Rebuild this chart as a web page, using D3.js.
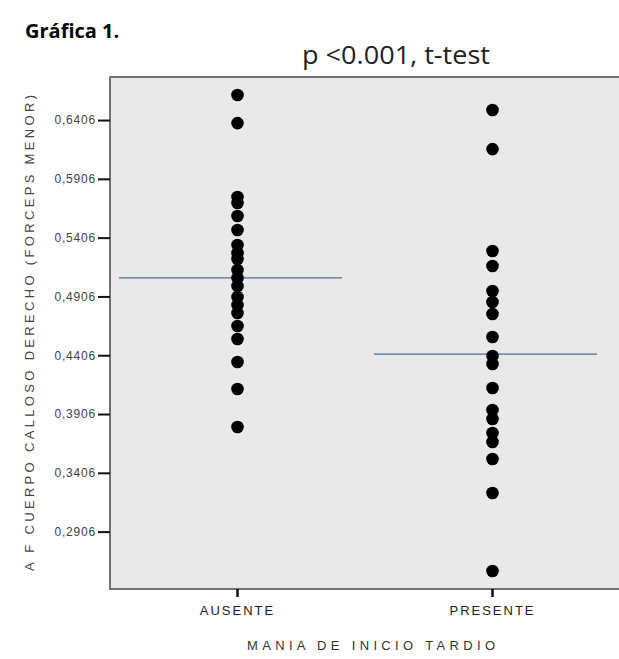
<!DOCTYPE html>
<html lang="es">
<head>
<meta charset="UTF-8">
<title>Gráfica 1</title>
<style>
  body { margin: 0; background: #fff; overflow: hidden; }
  svg { display: block; }
</style>
</head>
<body>
<div id="chart"></div>
<script src="https://d3js.org/d3.v7.min.js"></script>
<script>
// grupos y valores
var categories = ["AUSENTE", "PRESENTE"];
var ausente = [0.6619, 0.6380, 0.5751, 0.5700, 0.5590, 0.5471, 0.5343, 0.5275, 0.5224, 0.5131,
               0.5063, 0.4995, 0.4901, 0.4833, 0.4765, 0.4654, 0.4544, 0.4348, 0.4119, 0.3796];
var presente = [0.6491, 0.6159, 0.5292, 0.5165, 0.4952, 0.4858, 0.4756, 0.4561, 0.4399, 0.4331,
                0.4127, 0.3940, 0.3864, 0.3745, 0.3668, 0.3523, 0.3234, 0.2571];
var means = [0.5063, 0.4416];
var yTicks = [0.2906, 0.3406, 0.3906, 0.4406, 0.4906, 0.5406, 0.5906, 0.6406];
var yTickLabels = ["0,2906", "0,3406", "0,3906", "0,4406", "0,4906", "0,5406", "0,5906", "0,6406"];

var W = 619, H = 659;
var margin = { top: 77, right: -1, bottom: 70, left: 110 };
var width = W - margin.left - margin.right;
var height = H - margin.top - margin.bottom;

var svg = d3.select("#chart").append("svg")
    .attr("width", W)
    .attr("height", H);

var g = svg.append("g")
    .attr("transform", "translate(" + margin.left + "," + margin.top + ")");

var x = d3.scaleBand()
    .domain(categories)
    .range([0, width])
    .paddingOuter(0);

var y = d3.scaleLinear()
    .domain([0.2418, 0.6772])
    .range([height, 0]);

// fondo del area (el borde derecho queda fuera de la imagen)
g.append("rect")
    .attr("width", width + 20)
    .attr("height", height)
    .style("fill", "#e9e9e9")
    .style("stroke", "#4a4a4a")
    .style("stroke-width", 1.5);

// eje Y
var yAxis = d3.axisLeft(y)
    .tickValues(yTicks)
    .tickFormat(function(d, i) { return yTickLabels[i]; })
    .tickSize(12)
    .tickPadding(2);

var yGuide = g.append("g").call(yAxis);
yGuide.select(".domain").remove();
yGuide.selectAll("line")
    .style("stroke", "#111")
    .style("stroke-width", 2);
yGuide.selectAll("text")
    .style("font-family", "'Liberation Sans', Arial, sans-serif")
    .style("font-size", "12px")
    .style("letter-spacing", "0.8px")
    .style("fill", "#444");

// eje X
var xAxis = d3.axisBottom(x)
    .tickSize(8)
    .tickPadding(9);

var xGuide = g.append("g")
    .attr("transform", "translate(0," + height + ")")
    .call(xAxis);
xGuide.select(".domain").remove();
xGuide.selectAll("line")
    .style("stroke", "#111")
    .style("stroke-width", 2.5);
xGuide.selectAll("text")
    .style("font-family", "'Liberation Sans', Arial, sans-serif")
    .style("font-size", "13px")
    .style("letter-spacing", "2px")
    .style("fill", "#222");

// lineas de la media
var step = x.step();
g.selectAll(".mean")
    .data(categories)
    .enter()
    .append("line")
    .attr("class", "mean")
    .attr("x1", function(d) { return x(d) + x.bandwidth() / 2 - step * 0.465; })
    .attr("x2", function(d) { return x(d) + x.bandwidth() / 2 + step * 0.41; })
    .attr("y1", function(d, i) { return y(means[i]); })
    .attr("y2", function(d, i) { return y(means[i]); })
    .style("stroke", "#4d6f94")
    .style("stroke-width", 1.3);

// puntos
var groups = [ausente, presente];
groups.forEach(function(vals, gi) {
    g.selectAll(".dot" + gi)
        .data(vals)
        .enter()
        .append("circle")
        .attr("class", "dot" + gi)
        .attr("cx", x(categories[gi]) + x.bandwidth() / 2)
        .attr("cy", function(d) { return y(d); })
        .attr("r", 6.3)
        .style("fill", "#000");
});

// titulos de ejes
svg.append("text")
    .attr("transform", "translate(34," + (margin.top + height / 2) + ") rotate(-90)")
    .attr("text-anchor", "middle")
    .attr("textLength", 476)
    .attr("lengthAdjust", "spacing")
    .style("font-family", "'Liberation Sans', Arial, sans-serif")
    .style("font-size", "13px")
    .style("fill", "#444")
    .text("A F CUERPO CALLOSO DERECHO (FORCEPS MENOR)");

svg.append("text")
    .attr("x", 371)
    .attr("y", 650)
    .attr("text-anchor", "middle")
    .attr("textLength", 248)
    .attr("lengthAdjust", "spacing")
    .style("font-family", "'Liberation Sans', Arial, sans-serif")
    .style("font-size", "13px")
    .style("fill", "#333")
    .text("MANIA DE INICIO TARDIO");

// titulo y anotacion
svg.append("text")
    .attr("x", 25)
    .attr("y", 38)
    .style("font-family", "'Open Sans', sans-serif")
    .style("font-weight", "bold")
    .style("font-size", "20px")
    .style("fill", "#000")
    .text("Gráfica 1.");

svg.append("text")
    .attr("x", 302)
    .attr("y", 64)
    .attr("textLength", 188)
    .attr("lengthAdjust", "spacingAndGlyphs")
    .style("font-family", "'Open Sans', sans-serif")
    .style("font-size", "25px")
    .style("fill", "#222")
    .text("p <0.001, t-test");
</script>
</body>
</html>
